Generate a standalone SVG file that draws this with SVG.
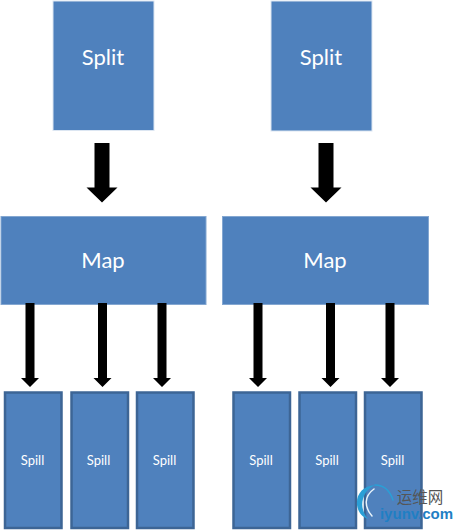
<svg xmlns="http://www.w3.org/2000/svg" width="460" height="531" viewBox="0 0 460 531">
<style>
text{font-family:Lato,"Liberation Sans",sans-serif;fill:#fff;text-anchor:middle}
.split{fill:#4f81bd;stroke:#dce6f2;stroke-width:1}
.map{fill:#4f81bd;stroke:#84a7d1;stroke-width:1}
.spill{fill:#4f81bd;stroke:#3d6595;stroke-width:2.500}
.big{font-size:22px}
.small{font-size:13px}
.ar{fill:#000}
.wm{fill:none;stroke-linecap:round}
</style>
<defs>
<path id="bigArrow" class="ar" d="M-7.5 143H7.5V187.500H15.500L0 202.500L-15.500 187.500H-7.500Z"/>
<path id="smallArrow" class="ar" d="M-4.500 303H4.500V378H9L0 387L-9 378H-4.500Z"/>
</defs>
<g id="split-1"><rect class="split" x="53" y="1" width="101" height="129.500"/><text class="big" x="103" y="65">Split</text></g>
<g id="split-2"><rect class="split" x="271" y="1" width="101" height="130"/><text class="big" x="321" y="65">Split</text></g>
<g id="map-1"><rect class="map" x="1" y="216.500" width="205" height="88"/><text class="big" x="103" y="268">Map</text></g>
<g id="map-2"><rect class="map" x="222.500" y="216.500" width="206" height="88"/><text class="big" x="325" y="268">Map</text></g>
<g id="spill-1"><rect class="spill" x="5" y="392.500" width="56.500" height="135.500"/><text class="small" x="32.500" y="465">Spill</text></g>
<g id="spill-2"><rect class="spill" x="71.500" y="392.500" width="56.500" height="135.500"/><text class="small" x="98.500" y="465">Spill</text></g>
<g id="spill-3"><rect class="spill" x="137" y="392.500" width="56.500" height="135.500"/><text class="small" x="164.500" y="465">Spill</text></g>
<g id="spill-4"><rect class="spill" x="233.500" y="392.500" width="56.500" height="135.500"/><text class="small" x="261" y="465">Spill</text></g>
<g id="spill-5"><rect class="spill" x="299.500" y="392.500" width="56.500" height="135.500"/><text class="small" x="327" y="465">Spill</text></g>
<g id="spill-6"><rect class="spill" x="365" y="392.500" width="56.500" height="135.500"/><text class="small" x="392.500" y="465">Spill</text></g>
<g id="connectors">
<use href="#bigArrow" x="102"/>
<use href="#bigArrow" x="326"/>
<use href="#smallArrow" x="30"/>
<use href="#smallArrow" x="102.500"/>
<use href="#smallArrow" x="162"/>
<use href="#smallArrow" x="258"/>
<use href="#smallArrow" x="330.500"/>
<use href="#smallArrow" x="390"/>
</g>
<g id="watermark">
<path fill="#2a9fd6" d="M375 485C363 486 356 494 357 505C358 512 362 517 368 519C363 513 361 506 363 499C365 492 369 488 375 485Z"/>
<path class="wm" stroke="#e8f4fb" stroke-width="1.500" d="M372 516C364 507 364 496 374 489"/>
<path class="wm" stroke="#2a9fd6" stroke-width="1.500" d="M375 485C384 485 390 491 393 500"/>
<text x="420" y="503" style="fill:#555;font-family:'Noto Sans CJK SC',sans-serif;font-size:15.500px">运维网</text>
<text x="416.500" y="519" style="fill:#1f7fc4;font-family:'Liberation Sans',sans-serif;font-size:15px;font-weight:bold">iyunv.com</text>
</g>
</svg>
